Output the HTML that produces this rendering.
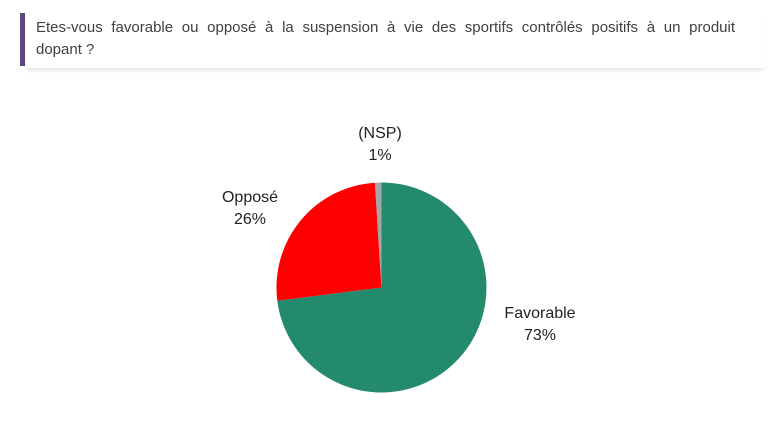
<!DOCTYPE html>
<html><head><meta charset="utf-8"><style>
body{margin:0;width:770px;height:446px;background:#fff;overflow:hidden;font-family:"Liberation Sans",sans-serif;position:relative}
.bar{position:absolute;left:20px;top:13px;width:5px;height:53px;background:#5c4880}
.hdr{position:absolute;left:25px;top:12px;width:740px;height:56px;box-shadow:0 4px 4px -2px rgba(0,0,0,0.12)}
.t{position:absolute;left:36px;width:699px;font-size:15px;line-height:22px;color:#404040;white-space:nowrap}
.j{text-align:justify;text-align-last:justify}
.l{position:absolute;font-size:16px;color:#222;text-align:center;line-height:22px}
</style></head><body>
<div class="hdr"></div><div class="bar"></div>
<div class="t j" style="top:17px">Etes-vous favorable ou opposé à la suspension à vie des sportifs contrôlés positifs à un produit</div>
<div class="t" style="top:39px">dopant ?</div>
<svg width="770" height="446" style="position:absolute;left:0;top:0">
<path d="M381.5,287.5 L381.5,182.5 A105,105 0 1 1 277.3,300.7 Z" fill="#248a6e"/>
<path d="M381.5,287.5 L277.3,300.7 A105,105 0 0 1 374.9,182.7 Z" fill="#fe0000"/>
<path d="M381.5,287.5 L374.9,182.7 A105,105 0 0 1 381.5,182.5 Z" fill="#a6a6a6"/>
</svg>
<div class="l" style="left:350px;top:123px;width:80px;left:340px">(NSP)<br>1%</div>
<div class="l" style="left:205px;top:187px;width:90px">Opposé<br>26%</div>
<div class="l" style="left:485px;top:303px;width:110px">Favorable<br>73%</div>
</body></html>
